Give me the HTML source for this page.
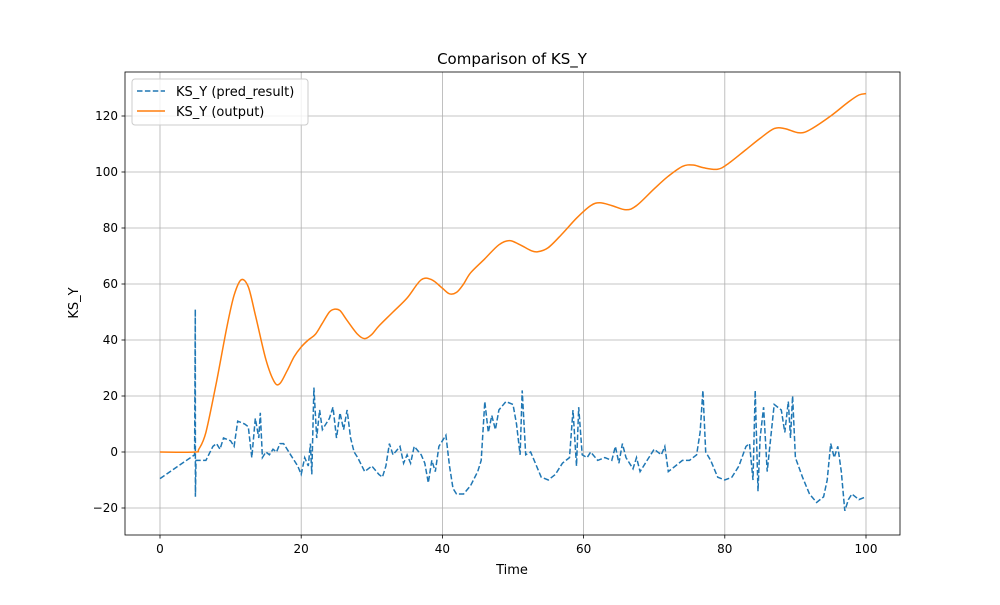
<!DOCTYPE html>
<html><head><meta charset="utf-8"><style>
body{margin:0;background:#fff;font-family:"Liberation Sans","DejaVu Sans",sans-serif;}
svg text{font-family:"DejaVu Sans","Liberation Sans",sans-serif;}
</style></head><body>
<svg id="chart" width="1000" height="600" xmlns="http://www.w3.org/2000/svg">
<rect width="1000" height="600" fill="#fff"/>
<g id="grid"></g>
<g id="series"></g>
<rect x="125" y="72" width="775" height="463" fill="none" stroke="#000" stroke-width="0.8"/>
<g id="ticks"></g>
<text x="512" y="64" text-anchor="middle" font-size="15">Comparison of KS_Y</text>
<text x="512" y="574" text-anchor="middle" font-size="13">Time</text>
<text transform="translate(78,303) rotate(-90)" text-anchor="middle" font-size="13">KS_Y</text>
<g>
<rect x="132" y="79" width="176" height="46" rx="3" fill="#fff" fill-opacity="0.8" stroke="#ccc"/>
<g>
<line x1="137" y1="91" x2="165" y2="91" stroke="#1f77b4" stroke-width="1.5" stroke-dasharray="5.5,2.4"/>
<text x="176" y="96" font-size="13">KS_Y (pred_result)</text></g>
<g>
<line x1="137" y1="111" x2="165" y2="111" stroke="#ff7f0e" stroke-width="1.5"/>
<text x="176" y="116" font-size="13">KS_Y (output)</text></g>
</g>
</svg>
<script>
const xTicks=[0,20,40,60,80,100];
const yTicks=[-20,0,20,40,60,80,100,120];
const orangeT=[0,4.9,5.5,6.5,8,9.5,10.5,11.5,12.5,13.5,15,16.2,17,18,19,20,21,22,23,24,24.7,25.5,26.5,28,29,30,31,33,35,37,38.5,40,41,42,43,44,46,48,49.5,51,52.5,53.5,55,57,59,61,62.3,64,66,67.5,70,72,74,75.5,77,79,80.5,83,85,87,88.5,90.5,92,95,97.5,99,100];
const orangeV=[0,0,1,7,25,45,56,61.5,59,49,33,25,24.5,29,34,37.5,40,42,46,50,51,50.5,47,42,40.5,42,45,50,55,61.5,61.5,58.5,56.5,57,60,64,69,74,75.5,74,72,71.5,73,78,83.5,88,89,88,86.5,88,94,98.5,102,102.5,101.5,101,103,108,112,115.5,115.5,114,115,120,125,127.5,128];
const blueT=[0,4.9,5,5.01,5.1,5.5,6.5,7.5,8,8.5,9,10,10.5,11,12,12.5,13,13.5,14,14.2,14.5,15,15.5,16,16.5,17,17.5,18.5,19.5,20,20.5,21,21.3,21.5,21.8,22.2,22.6,23,24,24.5,25,25.5,26,26.5,27,27.5,28,29,30,31,31.5,32,32.5,33,34,34.5,35,35.5,36,37,37.5,38,38.5,39,39.5,40,40.5,41,41.5,42,43,44,45,45.5,46,46.5,47,47.5,48,49,50,50.5,51,51.3,51.8,52.5,53,54,55,56,57,58,58.5,59,59.3,59.8,60.5,61,62,63,64,64.5,65,65.5,66,67,67.5,68,69,70,71,71.5,72,73,74,75,76,76.5,76.9,77.3,78,79,80,81,82,83,83.5,84,84.3,84.7,85,85.5,86,87,88,88.5,89,89.3,89.6,90,91,92,93,94,94.5,95,95.5,96,96.5,97,97.5,98,99,100];
const blueV=[-9.5,-1,51,-16,-3,-3,-3,2,3,1,5,4,2,11,10,9,-2,12,5,14,-2,0,-1,1,0,3,3,-1,-5,-8,-2,-5,3,-8,23,5,15,8,12,16,5,14,8,15,5,0,-2,-7,-5,-8,-9,-5,3,-1,2,-4,-1,-4,2,-1,-4,-11,-3,-7,2,4,6,-5,-13,-15,-15,-12,-7,-3,18,7,13,8,15,18,17,10,-1,22,-1,0,-3,-9,-10,-8,-4,-2,15,-5,16,-1,-2,0,-3,-2,-3,2,-4,3,-2,-6,-2,-7,-3,1,-1,2,-7,-5,-3,-3,-1,7,22,0,-3,-9,-10,-9,-5,2,3,-10,22,-14,5,16,-7,17,15,7,18,5,20,-2,-9,-15,-18,-16,-10,3,-2,2,-7,-21,-17,-15,-17,-16];
const NS='http://www.w3.org/2000/svg';
const X0=125,X1=900,Y0=72,Y1=535;
function sx(v){return 160+(v-0)*(866-160)/100;}
function sy(v){return 452-v*2.8;}
function mk(tag,attrs,parent){const e=document.createElementNS(NS,tag);for(const k in attrs)e.setAttribute(k,attrs[k]);parent.appendChild(e);return e;}
const grid=document.getElementById('grid'),ticks=document.getElementById('ticks'),series=document.getElementById('series');
function fmt(t){return t<0?'\u2212'+(-t):String(t);}
xTicks.forEach(t=>{const x=sx(t);
 const g=mk('line',{x1:x,x2:x,y1:Y0,y2:Y1,stroke:'#b0b0b0','stroke-width':0.8},grid);
 
 
 mk('line',{x1:x,x2:x,y1:Y1,y2:Y1+3.5,stroke:'#000','stroke-width':0.8},ticks);
 const tx=mk('text',{x:x,y:Y1+18,'text-anchor':'middle','font-size':12},ticks);tx.textContent=fmt(t);
 
 
});
yTicks.forEach(t=>{const y=sy(t);
 const g=mk('line',{x1:X0,x2:X1,y1:y,y2:y,stroke:'#b0b0b0','stroke-width':0.8},grid);
 
 
 mk('line',{x1:X0-3.5,x2:X0,y1:y,y2:y,stroke:'#000','stroke-width':0.8},ticks);
 const tx=mk('text',{x:X0-7,y:y+4,'text-anchor':'end','font-size':12},ticks);tx.textContent=fmt(t);
 
 
});
function path(T,V){return T.map((t,i)=>(i?'L':'M')+sx(t).toFixed(1)+','+sy(V[i]).toFixed(1)).join('');}
function smooth(T,V){const P=T.map((t,i)=>[sx(t),sy(V[i])]);let d='M'+P[0][0].toFixed(1)+','+P[0][1].toFixed(1);
 for(let i=0;i<P.length-1;i++){const p0=P[Math.max(0,i-1)],p1=P[i],p2=P[i+1],p3=P[Math.min(P.length-1,i+2)];
  const c1=[p1[0]+(p2[0]-p0[0])/6,p1[1]+(p2[1]-p0[1])/6],c2=[p2[0]-(p3[0]-p1[0])/6,p2[1]-(p3[1]-p1[1])/6];
  d+='C'+c1.map(v=>v.toFixed(1)).join(',')+' '+c2.map(v=>v.toFixed(1)).join(',')+' '+p2[0].toFixed(1)+','+p2[1].toFixed(1);}
 return d;}
const pb=mk('path',{d:path(blueT,blueV),fill:'none',stroke:'#1f77b4','stroke-width':1.5,'stroke-dasharray':'5.5,2.4'},series);


const po=mk('path',{d:smooth(orangeT,orangeV),fill:'none',stroke:'#ff7f0e','stroke-width':1.5,'stroke-linejoin':'round'},series);


</script>
</body></html>
